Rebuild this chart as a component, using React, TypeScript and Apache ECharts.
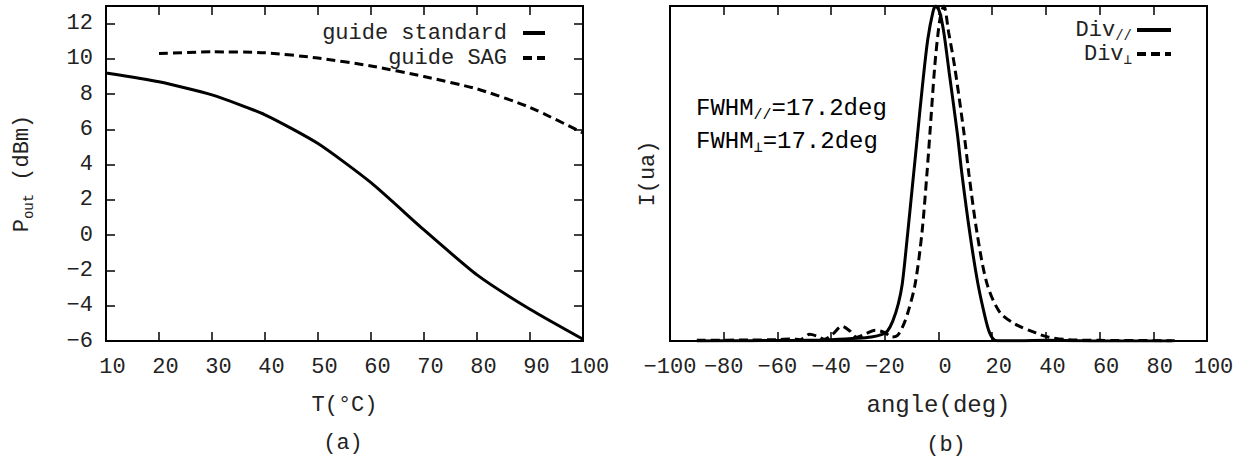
import React, { useEffect, useRef } from "react";
import * as echarts from "echarts";

// ---- Panel (a): output power vs temperature ----
const tempStandard = [10, 20, 30, 40, 50, 60, 70, 80, 90, 100];
const powerStandard = [9.2, 8.7, 7.96, 6.83, 5.2, 2.98, 0.3, -2.25, -4.2, -5.9];
const tempSAG = [20, 30, 40, 50, 60, 70, 80, 90, 100];
const powerSAG = [10.3, 10.4, 10.35, 10.05, 9.6, 9.0, 8.3, 7.25, 5.8];

// ---- Panel (b): far-field divergence ----
const anglePar = [-90, -70, -50, -40, -30, -25, -21, -19, -17, -15, -13.5, -11.5, -9.5, -8, -6, -4, -2, -1, 0.5, 2, 4, 7, 8.7, 11.7, 14.7, 17.4, 19, 20.5, 22, 30, 40, 50, 60, 87];
const intensityPar = [0, 0.001, 0.002, 0.004, 0.008, 0.012, 0.02, 0.03, 0.06, 0.11, 0.17, 0.32, 0.48, 0.6, 0.76, 0.9, 0.985, 1.0, 0.98, 0.92, 0.8, 0.62, 0.5, 0.32, 0.17, 0.07, 0.025, 0.005, 0.001, 0.001, 0.002, 0.001, 0, 0];
const anglePerp = [-90, -70, -60, -55, -51.5, -48, -45, -42.5, -39.5, -36, -33, -30.5, -27, -23.5, -20, -17.5, -15.5, -13.5, -11.4, -8.7, -6.2, -4.3, -3.2, -1.4, 0, 1, 2, 3.8, 6, 9.5, 11.3, 14.4, 18.1, 22.9, 28.9, 36.3, 40.8, 48, 60, 88];
const intensityPerp = [0.002, 0.003, 0.004, 0.006, 0.004, 0.02, 0.014, 0.005, 0.02, 0.044, 0.03, 0.011, 0.022, 0.032, 0.025, 0.012, 0.015, 0.04, 0.085, 0.17, 0.32, 0.5, 0.62, 0.82, 0.93, 0.98, 1.0, 0.92, 0.82, 0.62, 0.5, 0.32, 0.17, 0.085, 0.049, 0.024, 0.012, 0.004, 0.002, 0.001];

const FONT = "'Liberation Mono', 'Courier New', monospace";
const TXT = "#222";

const zip = (xs: number[], ys: number[]) => xs.map((x, i) => [x, ys[i]]);
const minus = (v: number) => String(v).replace("-", "\u2212");
// gnuplot-like x labels: positive numbers carry a leading sign slot
const xLabel = (v: number) => (v < 0 ? `{n|${minus(v)}}` : `{p|${v}}`);
const xRich = {
  n: { fontFamily: FONT, fontSize: 22, color: TXT },
  p: { fontFamily: FONT, fontSize: 22, color: TXT, padding: [0, 0, 0, 13] },
};

const mkRich = (size: number, lh: number, sub: number, subLh: number, subPad: number) => ({
  m: { fontFamily: FONT, fontSize: size, color: TXT, lineHeight: lh, verticalAlign: "top" },
  s: { fontFamily: FONT, fontSize: sub, color: TXT, lineHeight: subLh, verticalAlign: "top", padding: [subPad, 0, 0, 0] },
});
const richAxis = mkRich(22, 22, 14, 14, 11);
const richNote = mkRich(24, 24, 15, 15, 12);
const richLegend = mkRich(22, 22, 14, 12, 10);
const richLegendA = { m: { fontFamily: FONT, fontSize: 22, color: TXT, lineHeight: 22 } };

const tickStyle = { show: true, inside: true, length: 9, lineStyle: { color: "#000", width: 1.5 } };
const lineAxis = { show: true, onZero: false, lineStyle: { color: "#000", width: 2 } };
const labelStyle = { fontFamily: FONT, fontSize: 22, color: TXT };
const legendSymbolHidden = { opacity: 0, color: "transparent", borderWidth: 0 };

export default function App() {
  const ref = useRef<HTMLDivElement>(null);
  useEffect(() => {
    document.body.style.margin = "0";
    const chart = echarts.init(ref.current!, null, { renderer: "svg" });
    chart.setOption({
      animation: false,
      backgroundColor: "#fff",
      grid: [
        { left: 106, top: 6, width: 477, height: 335, show: true, borderColor: "#000", borderWidth: 2, backgroundColor: "transparent" },
        { left: 670, top: 6, width: 537, height: 335, show: true, borderColor: "#000", borderWidth: 2, backgroundColor: "transparent" },
      ],
      xAxis: [
        {
          gridIndex: 0, type: "value", min: 10, max: 100, interval: 10, position: "bottom",
          axisLine: lineAxis, axisTick: tickStyle, splitLine: { show: false },
          axisLabel: { ...labelStyle, margin: 15, formatter: xLabel, rich: xRich },
          name: "T(°C)", nameLocation: "middle", nameGap: 53,
          nameTextStyle: { fontFamily: FONT, fontSize: 22, color: TXT },
        },
        {
          gridIndex: 0, type: "value", min: 10, max: 100, interval: 10, position: "top",
          axisLine: lineAxis, axisTick: tickStyle, splitLine: { show: false }, axisLabel: { show: false },
        },
        {
          gridIndex: 1, type: "value", min: -100, max: 100, interval: 20, position: "bottom",
          axisLine: lineAxis, axisTick: tickStyle, splitLine: { show: false },
          axisLabel: { ...labelStyle, margin: 15, formatter: xLabel, rich: xRich },
          name: "angle(deg)", nameLocation: "middle", nameGap: 52,
          nameTextStyle: { fontFamily: FONT, fontSize: 24, color: TXT },
        },
        {
          gridIndex: 1, type: "value", min: -100, max: 100, interval: 20, position: "top",
          axisLine: lineAxis, axisTick: tickStyle, splitLine: { show: false }, axisLabel: { show: false },
        },
      ],
      yAxis: [
        {
          gridIndex: 0, type: "value", min: -6, max: 13, interval: 2, position: "left",
          axisLine: lineAxis, axisTick: tickStyle, splitLine: { show: false },
          axisLabel: { ...labelStyle, margin: 13, showMaxLabel: false, formatter: minus },
          name: "{m|P}{s|out}{m| (dBm)}", nameLocation: "middle", nameGap: 73, nameRotate: 90,
          nameTextStyle: { rich: richAxis },
        },
        {
          gridIndex: 0, type: "value", min: -6, max: 13, interval: 2, position: "right",
          axisLine: lineAxis, axisTick: tickStyle, splitLine: { show: false }, axisLabel: { show: false },
        },
        {
          gridIndex: 1, type: "value", min: 0, max: 1, position: "left",
          axisLine: lineAxis, axisTick: { show: false }, splitLine: { show: false }, axisLabel: { show: false },
          name: "I(ua)", nameLocation: "middle", nameGap: 11, nameRotate: 90,
          nameTextStyle: { fontFamily: FONT, fontSize: 22, color: TXT },
        },
      ],
      legend: [
        {
          data: ["guide standard", "guide SAG"], orient: "vertical", align: "right",
          right: 692, top: 17, itemWidth: 22, itemHeight: 14, itemGap: 3, selectedMode: false,
          itemStyle: legendSymbolHidden, lineStyle: { width: 4 },
          formatter: (name: string) => `{m|${name}}`,
          textStyle: { rich: richLegendA, padding: [0, 11, 0, 0] },
        },
        {
          data: ["Div//", "Div\u22a5"], orient: "vertical", align: "right",
          right: 66, top: 14, itemWidth: 34, itemHeight: 14, itemGap: 0, selectedMode: false,
          itemStyle: legendSymbolHidden, lineStyle: { width: 4 },
          formatter: (name: string) => `{m|Div}{s|${name.slice(3)}}`,
          textStyle: { rich: richLegend },
        },
      ],
      graphic: [
        { type: "text", left: 696, top: 96, style: { text: "{m|FWHM}{s|//}{m|=17.2deg}", rich: richNote } },
        { type: "text", left: 696, top: 129, style: { text: "{m|FWHM}{s|\u22a5}{m|=17.2deg}", rich: richNote } },
        { type: "text", x: 343, y: 443, style: { text: "(a)", fontFamily: FONT, fontSize: 22, fill: TXT, align: "center", verticalAlign: "middle" } },
        { type: "text", x: 946, y: 445, style: { text: "(b)", fontFamily: FONT, fontSize: 22, fill: TXT, align: "center", verticalAlign: "middle" } },
      ],
      series: [
        {
          name: "guide standard", type: "line", xAxisIndex: 0, yAxisIndex: 0, data: zip(tempStandard, powerStandard),
          symbol: "none", smooth: 0.2, color: "#000", lineStyle: { color: "#000", width: 3 },
        },
        {
          name: "guide SAG", type: "line", xAxisIndex: 0, yAxisIndex: 0, data: zip(tempSAG, powerSAG),
          symbol: "none", smooth: 0.2, color: "#000", lineStyle: { color: "#000", width: 3, type: [9, 5] },
        },
        {
          name: "Div//", type: "line", xAxisIndex: 2, yAxisIndex: 2, data: zip(anglePar, intensityPar),
          symbol: "none", smooth: 0.3, color: "#000", lineStyle: { color: "#000", width: 3 },
        },
        {
          name: "Div\u22a5", type: "line", xAxisIndex: 2, yAxisIndex: 2, data: zip(anglePerp, intensityPerp),
          symbol: "none", smooth: 0.3, color: "#000", lineStyle: { color: "#000", width: 3, type: [9, 5] },
        },
      ],
    });
    return () => chart.dispose();
  }, []);
  return <div ref={ref} style={{ width: 1244, height: 457 }} />;
}
